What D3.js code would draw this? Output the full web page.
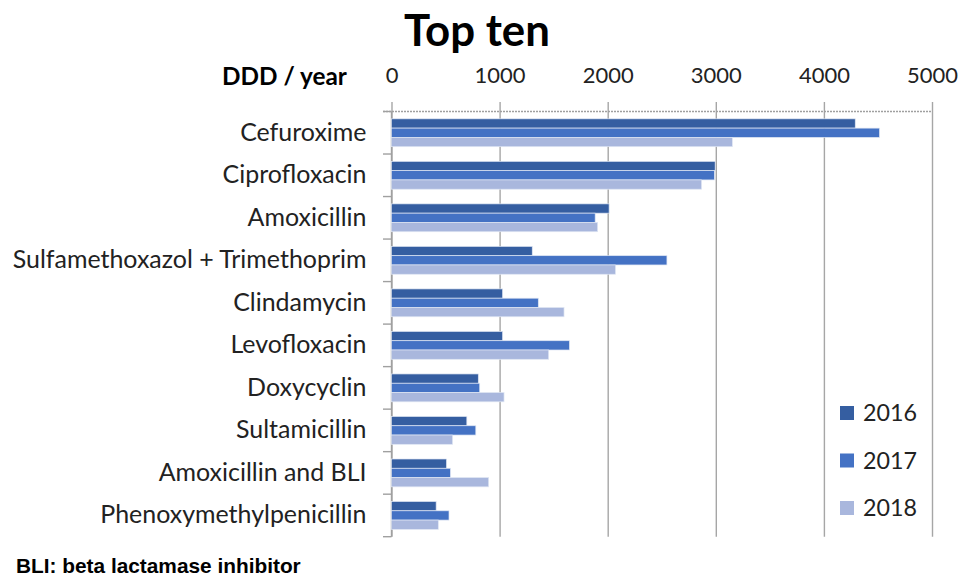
<!DOCTYPE html>
<html>
<head>
<meta charset="utf-8">
<script src="https://cdn.jsdelivr.net/npm/d3@7"></script>
<style>
  html, body { margin: 0; padding: 0; background: #fff; }
  svg { display: block; }
</style>
</head>
<body>
<div id="chart"></div>
<script>
// data (DDD per year)
var categories = [
    'Cefuroxime',
    'Ciprofloxacin',
    'Amoxicillin',
    'Sulfamethoxazol + Trimethoprim',
    'Clindamycin',
    'Levofloxacin',
    'Doxycyclin',
    'Sultamicillin',
    'Amoxicillin and BLI',
    'Phenoxymethylpenicillin'
];
var years = ['2016', '2017', '2018'];
var values2016 = [4290, 2994, 2013, 1302, 1028, 1028, 803, 697, 509, 413];
var values2017 = [4514, 2987, 1884, 2548, 1358, 1646, 816, 780, 545, 532];
var values2018 = [3153, 2868, 1907, 2072, 1596, 1454, 1041, 565, 899, 433];
var xTicks = [0, 1000, 2000, 3000, 4000, 5000];
var colors = ['#355ea1', '#4472c4', '#a9b7dd'];

var series = [values2016, values2017, values2018];
var rows = categories.map(function (c, i) {
    return { name: c, vals: years.map(function (y, j) { return { year: y, value: series[j][i] }; }) };
});

var width = 961, height = 576,
    plotLeft = 391.5, plotRight = 932, plotTop = 111.5, plotBottom = 536.7;

var svg = d3.select('#chart').append('svg')
    .attr('width', width)
    .attr('height', height);

var x = d3.scaleLinear().domain([0, 5000]).range([plotLeft, plotRight]);
var y = d3.scaleBand().domain(categories).range([plotTop, plotBottom]).paddingInner(0.345).paddingOuter(0.1725);
var yInner = d3.scaleBand().domain(years).range([0, y.bandwidth()]);

// shrink/grow a text node's font so it spans the wanted width
function fitWidth(node, target) {
    var fs = parseFloat(d3.select(node).style('font-size'));
    var w = node.getComputedTextLength();
    d3.select(node).style('font-size', (fs * target / w) + 'px');
    return fs * target / w;
}

// gridlines + tick labels on top
var xAxis = svg.append('g')
    .attr('transform', 'translate(0,102)')
    .call(d3.axisTop(x).tickValues(xTicks).tickFormat(d3.format('d'))
        .tickSizeInner(-(plotBottom - 102)).tickSizeOuter(0).tickPadding(19));
xAxis.select('.domain').remove();
xAxis.selectAll('line').attr('stroke', '#a6a6a6').attr('stroke-width', 1.4);
xAxis.selectAll('text')
    .attr('fill', '#222')
    .style('font-family', 'Lato, sans-serif')
    .style('font-size', '20px');
var tfs = fitWidth(xAxis.selectAll('text').filter(function (d) { return d === 5000; }).node(), 51);
xAxis.selectAll('text').style('font-size', tfs + 'px');

// dashed top axis line
svg.append('line')
    .attr('x1', 383).attr('x2', plotRight)
    .attr('y1', plotTop).attr('y2', plotTop)
    .attr('stroke', '#a0a0a0').attr('stroke-width', 1.4)
    .attr('stroke-dasharray', '2,1');

// category axis line + boundary ticks
svg.append('line')
    .attr('x1', plotLeft).attr('x2', plotLeft)
    .attr('y1', plotTop).attr('y2', plotBottom)
    .attr('stroke', '#a0a0a0').attr('stroke-width', 1.4);
var bounds = categories.map(function (c) { return y(c) - y.step() * y.paddingInner() / 2; }).concat([plotBottom]);
svg.append('g').selectAll('line')
    .data(bounds)
    .join('line')
    .attr('x1', 383).attr('x2', plotLeft)
    .attr('y1', function (d) { return d; }).attr('y2', function (d) { return d; })
    .attr('stroke', '#a0a0a0').attr('stroke-width', 1.4);

// bars
var groups = svg.append('g').selectAll('g')
    .data(rows)
    .join('g')
    .attr('transform', function (d) { return 'translate(0,' + y(d.name) + ')'; });
groups.selectAll('rect')
    .data(function (d) { return d.vals; })
    .join('rect')
    .attr('x', x(0))
    .attr('y', function (d) { return yInner(d.year); })
    .attr('width', function (d) { return x(d.value) - x(0); })
    .attr('height', yInner.bandwidth())
    .attr('fill', function (d, i) { return colors[i]; })
    .attr('stroke', '#dfe6f3').attr('stroke-width', 0.7);

// category labels
var yAxis = svg.append('g')
    .attr('transform', 'translate(' + plotLeft + ',0)')
    .call(d3.axisLeft(y).tickSize(0).tickPadding(25));
yAxis.select('.domain').remove();
yAxis.selectAll('text')
    .attr('fill', '#222')
    .style('font-family', 'Lato, sans-serif')
    .style('font-size', '20px');
var cfs = fitWidth(yAxis.selectAll('text').filter(function (d) { return d === 'Sulfamethoxazol + Trimethoprim'; }).node(), 354);
yAxis.selectAll('text').style('font-size', cfs + 'px');

// title
var title = svg.append('text')
    .attr('x', 477).attr('y', 46)
    .attr('text-anchor', 'middle')
    .style('font-family', 'Lato, sans-serif')
    .style('font-weight', 'bold')
    .style('font-size', '40px')
    .attr('fill', '#000')
    .text('Top ten');
fitWidth(title.node(), 146);

var unit = svg.append('text')
    .attr('x', 222).attr('y', 85)
    .style('font-family', 'Lato, sans-serif')
    .style('font-weight', 'bold')
    .style('font-size', '20px')
    .attr('fill', '#000')
    .text('DDD / year');
fitWidth(unit.node(), 125);

// legend
var legend = svg.append('g').selectAll('g')
    .data(years)
    .join('g')
    .attr('transform', function (d, i) { return 'translate(840,' + (413 + i * 47.5) + ')'; });
legend.append('rect')
    .attr('x', 0).attr('y', -7)
    .attr('width', 14).attr('height', 14)
    .attr('fill', function (d, i) { return colors[i]; });
legend.append('text')
    .attr('x', 23).attr('y', 8)
    .style('font-family', 'Lato, sans-serif')
    .style('font-size', '20px')
    .attr('fill', '#222')
    .text(function (d) { return d; });
var lfs = fitWidth(legend.select('text').node(), 54);
legend.selectAll('text').style('font-size', lfs + 'px');

// footnote
var note = svg.append('text')
    .attr('x', 16).attr('y', 573)
    .style('font-family', '"Liberation Sans", Arial, sans-serif')
    .style('font-weight', 'bold')
    .style('font-size', '16px')
    .attr('fill', '#000')
    .text('BLI: beta lactamase inhibitor');
fitWidth(note.node(), 285);
</script>
</body>
</html>
